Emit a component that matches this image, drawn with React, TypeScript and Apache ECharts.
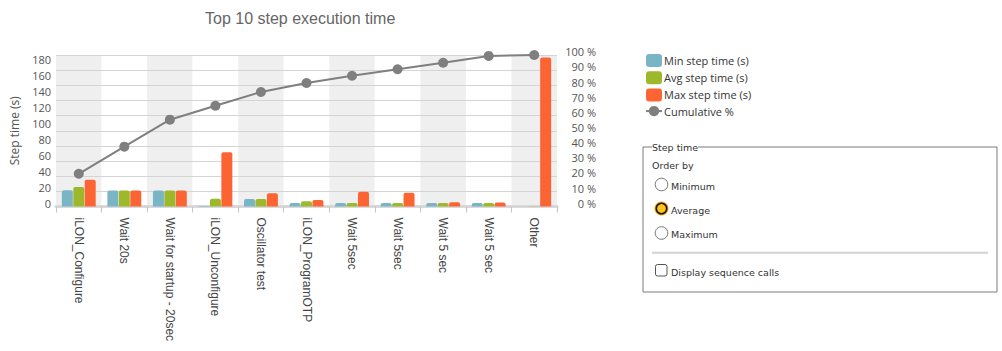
import React, { useEffect, useRef } from "react";
import * as echarts from "echarts";

const categories = [
  "iLON_Configure",
  "Wait 20s",
  "Wait for startup - 20sec",
  "iLON_Unconfigure",
  "Oscillator test",
  "iLON_ProgramOTP",
  "Wait 5sec",
  "Wait 5sec",
  "Wait 5 sec",
  "Wait 5 sec",
  "Other",
];
const minTimes = [20.3, 20, 20, 0.5, 9.4, 4.4, 4.5, 4.5, 4.5, 4.5, 0];
const avgTimes = [24.5, 20, 20, 9.8, 9.4, 6.5, 4.5, 4.5, 4.5, 4.5, 0.3];
const maxTimes = [33.7, 20, 20, 68, 16.5, 8.2, 18.6, 17.4, 5.2, 5, 187];
const cumulativePct = [21.6, 39.5, 57.3, 66.5, 75.6, 81.5, 86.3, 90.6, 94.9, 99.4, 100];

const seriesNames = ["Min step time (s)", "Avg step time (s)", "Max step time (s)", "Cumulative %"];
const panelTitle = "Step time";
const orderByLabel = "Order by";
const orderOptions = ["Minimum", "Average", "Maximum"];
const checkboxLabel = "Display sequence calls";

const COLORS = ["#79b5c5", "#9eb82c", "#fd6434", "#7f7f7f"];
const AXIS_FONT = "'Open Sans', 'Noto Sans', sans-serif";
const PANEL_FONT = "'DejaVu Sans', Verdana, sans-serif";

export default function App() {
  const ref = useRef<HTMLDivElement>(null);

  useEffect(() => {
    if (!ref.current) return;
    const chart = echarts.init(ref.current, undefined, { renderer: "svg" });

    const panelText = (text: string, x: number, y: number) => ({
      type: "text",
      x,
      y,
      style: {
        text,
        fill: "#333",
        font: `9.5px ${PANEL_FONT}`,
        align: "left",
        verticalAlign: "middle",
      },
    });

    const radioYs = [184.5, 208.5, 233];
    const graphics: any[] = [
      {
        type: "rect",
        shape: { x: 643, y: 147, width: 354, height: 145 },
        style: { fill: "none", stroke: "#7a7a7a", lineWidth: 1 },
      },
      {
        type: "text",
        x: 652,
        y: 147.5,
        style: {
          text: panelTitle,
          fill: "#333",
          font: `9.5px ${PANEL_FONT}`,
          align: "left",
          verticalAlign: "middle",
          backgroundColor: "#fff",
        },
      },
      panelText(orderByLabel, 652, 165),
      {
        type: "line",
        shape: { x1: 652, y1: 252.7, x2: 988, y2: 252.7 },
        style: { stroke: "#d3d3d3", lineWidth: 2 },
      },
      {
        type: "rect",
        shape: { x: 655.5, y: 264.5, width: 11.5, height: 11.5, r: 2 },
        style: { fill: "#fff", stroke: "#555", lineWidth: 1 },
      },
      panelText(checkboxLabel, 671, 272.5),
    ];
    orderOptions.forEach((opt, i) => {
      const cy = radioYs[i];
      if (i === 1) {
        graphics.push({
          type: "circle",
          shape: { cx: 661.5, cy, r: 7 },
          style: { fill: "#f3a21c", stroke: "none" },
        });
        graphics.push({
          type: "circle",
          shape: { cx: 661.5, cy, r: 5.2 },
          style: { fill: "#ffc414", stroke: "#1a1a1a", lineWidth: 1.6 },
        });
      } else {
        graphics.push({
          type: "circle",
          shape: { cx: 661.5, cy, r: 6.3 },
          style: { fill: "#fff", stroke: "#767676", lineWidth: 1 },
        });
      }
      graphics.push(panelText(opt, 671, cy + 1.5));
    });

    const barSeries = [minTimes, avgTimes, maxTimes].map((d, i) => ({
      name: seriesNames[i],
      type: "bar",
      data: d,
      barWidth: 11,
      barGap: "4%",
      itemStyle: { color: COLORS[i], borderRadius: [2, 2, 0, 0] },
      z: 3,
    }));

    chart.setOption({
      animation: false,
      textStyle: { fontFamily: AXIS_FONT },
      title: {
        text: "Top 10 step execution time",
        left: 205,
        top: 10,
        padding: 0,
        textStyle: {
          fontFamily: "'Liberation Sans', Arial, sans-serif",
          fontSize: 16,
          fontWeight: "normal",
          color: "#666",
        },
      },
      legend: {
        orient: "vertical",
        left: 645,
        top: 54,
        padding: 0,
        itemWidth: 16,
        itemHeight: 13,
        itemGap: 4.2,
        textStyle: { fontFamily: AXIS_FONT, fontSize: 11, color: "#333", padding: [0, 0, 0, -3] },
        data: seriesNames,
      },
      grid: { left: 56, right: 445, top: 55, bottom: 144.5, containLabel: false },
      xAxis: {
        type: "category",
        data: categories,
        boundaryGap: true,
        z: 0,
        axisLine: { show: true, lineStyle: { color: "#dadada", width: 3 } },
        axisTick: { show: true, length: 6, lineStyle: { color: "#c4c4c4", width: 1 } },
        axisLabel: {
          rotate: -90,
          margin: 11,
          interval: 0,
          color: "#444",
          fontFamily: "'Liberation Sans', Arial, sans-serif",
          fontSize: 12,
        },
        splitLine: { show: false },
        splitArea: { show: true, areaStyle: { color: ["#efefef", "#ffffff"] } },
      },
      yAxis: [
        {
          type: "value",
          min: 0,
          max: 190,
          interval: 20,
          z: 1,
          name: "Step time (s)",
          nameLocation: "middle",
          nameRotate: 90,
          nameGap: 36,
          nameTextStyle: { color: "#555", fontSize: 12, fontFamily: AXIS_FONT },
          axisLine: { show: false },
          axisTick: { show: false },
          splitLine: { show: false },
          axisLabel: {
            showMaxLabel: false,
            color: "#555",
            fontSize: 11,
            margin: 5,
            verticalAlign: "bottom",
            lineHeight: 7,
          },
        },
        {
          type: "value",
          min: 0,
          max: 100,
          interval: 10,
          z: 1,
          position: "right",
          axisLine: { show: false },
          axisTick: { show: false },
          splitLine: { show: true, lineStyle: { color: "#d4d4d4", width: 1 } },
          axisLabel: {
            formatter: "{value} %",
            align: "right",
            margin: 39,
            color: "#555",
            fontSize: 11,
            verticalAlign: "bottom",
            lineHeight: 6.5,
          },
        },
      ],
      series: [
        ...barSeries,
        {
          name: seriesNames[3],
          type: "line",
          yAxisIndex: 1,
          data: cumulativePct,
          symbol: "circle",
          symbolSize: 10,
          lineStyle: { color: COLORS[3], width: 2 },
          itemStyle: { color: COLORS[3] },
          z: 5,
        },
      ],
      graphic: graphics,
    });

    return () => chart.dispose();
  }, []);

  return (
    <div
      ref={ref}
      style={{ position: "fixed", left: 0, top: 0, width: 1002, height: 351, background: "#fff" }}
    />
  );
}
